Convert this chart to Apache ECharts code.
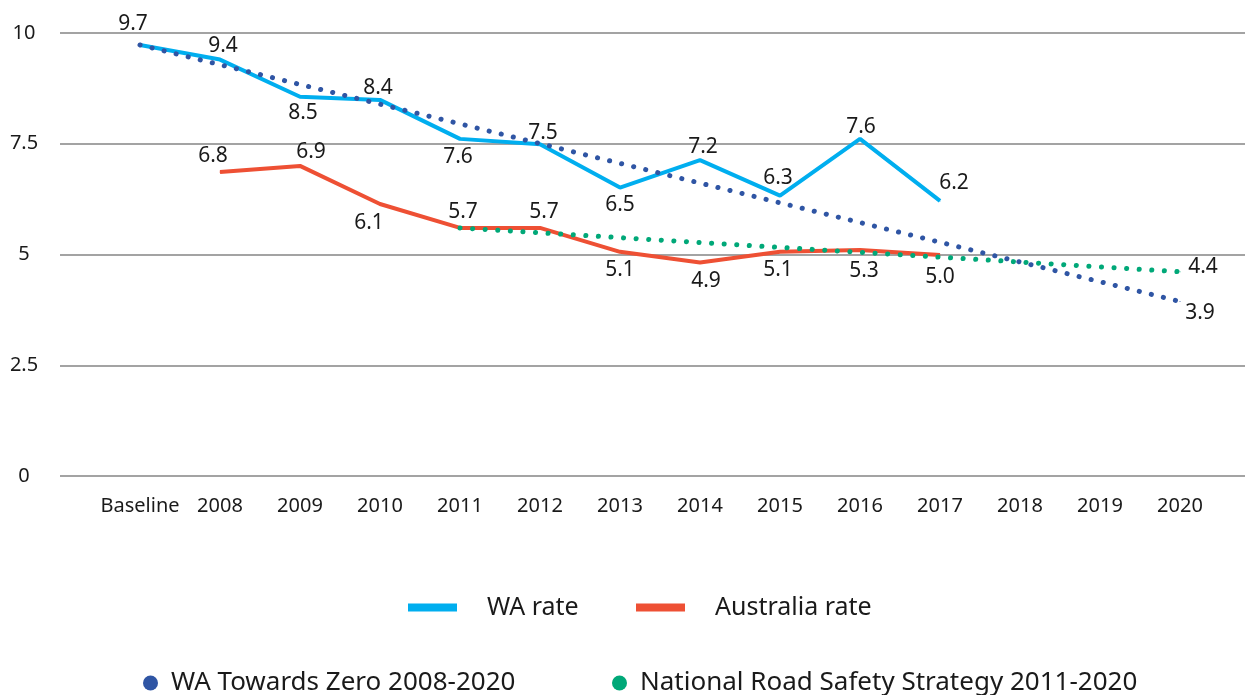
<!DOCTYPE html>
<html>
<head>
<meta charset="utf-8">
<script src="https://cdn.jsdelivr.net/npm/echarts@6/dist/echarts.min.js"></script>
<style>
  html, body { margin: 0; padding: 0; background: #fff; }
  #chart { width: 1245px; height: 695px; }
</style>
</head>
<body>
<div id="chart"></div>
<script>
// categories and values
const categories = ['Baseline', '2008', '2009', '2010', '2011', '2012', '2013', '2014', '2015', '2016', '2017', '2018', '2019', '2020']
const waRate = [9.73, 9.4, 8.56, 8.49, 7.61, 7.49, 6.51, 7.13, 6.33, 7.61, 6.21, null, null, null]
const waRateLabels = ['9.7', '9.4', '8.5', '8.4', '7.6', '7.5', '6.5', '7.2', '6.3', '7.6', '6.2', '', '', '']
const ausRate = [null, 6.86, 7.0, 6.14, 5.6, 5.6, 5.06, 4.82, 5.06, 5.1, 4.99, null, null, null]
const ausRateLabels = ['', '6.8', '6.9', '6.1', '5.7', '5.7', '5.1', '4.9', '5.1', '5.3', '5.0', '', '', '']
const waTarget = [9.73, null, null, null, null, null, null, null, null, null, null, null, null, 3.94]
const waTargetLabels = ['', '', '', '', '', '', '', '', '', '', '', '', '', '3.9']
const nrssTarget = [null, null, null, null, 5.6, null, null, null, null, null, null, null, null, 4.61]
const nrssTargetLabels = ['', '', '', '', '', '', '', '', '', '', '', '', '', '4.4']

// label offsets from each point (px)
const waOffsets = [[-7, -21], [3, -14], [3, 16], [-2, -12], [-2, 18], [3, -11], [0, 17], [3, -13], [-2, -18], [1, -12], [14, -18]]
const ausOffsets = [null, [-7, -16], [11, -14], [-11, 19], [3, -16], [4, -16], [0, 18], [6, 19], [-2, 18], [4, 21], [0, 22]]
const waTargetOffsets = { 13: [20, 12] }
const nrssOffsets = { 13: [23, -5] }

const colors = {
  wa: '#00AEEF',
  aus: '#EE5034',
  waTarget: '#2F55A4',
  nrss: '#00A878',
}
const textColor = '#1a1a1a'
const font = 'Noto Sans'

const buildData = (values, labels, offsets) =>
  values.map((v, i) => {
    if (v === null) return null
    const text = labels[i]
    const off = (offsets && offsets[i]) || [0, 0]
    return {
      value: v,
      label: {
        show: text !== '',
        formatter: () => text,
        position: 'inside',
        offset: off,
      },
    }
  })

const myChart = echarts.init(document.getElementById('chart'))

const labelStyle = {
  color: textColor,
  fontFamily: font,
  fontSize: 21,
}

// one legend per item so each sits where the original puts it
const makeLegend = (name, left, top, isLine) => ({
  data: [name],
  left: left,
  top: top,
  padding: 0,
  selectedMode: false,
  icon: isLine ? 'rect' : 'circle',
  itemWidth: isLine ? 49 : 15,
  itemHeight: isLine ? 8 : 15,
  itemStyle: { borderWidth: 0 },
  textStyle: {
    color: textColor,
    fontFamily: font,
    fontSize: isLine ? 25 : 26,
    padding: [0, 0, 0, isLine ? 25 : 8],
  },
})

const option = {
  animation: false,
  grid: [
    { left: 60, right: 0, top: 33, bottom: 219 },
    { left: 100, right: 25, top: 33, bottom: 219 },
  ],
  xAxis: [
    { gridIndex: 0, type: 'value', show: false },
    {
      gridIndex: 1,
      type: 'category',
      data: categories,
      axisLine: { show: false },
      axisTick: { show: false },
      axisLabel: { color: textColor, fontFamily: font, fontSize: 20, margin: 20, interval: 0 },
    },
  ],
  yAxis: [
    {
      gridIndex: 0,
      type: 'value',
      min: 0,
      max: 10,
      interval: 2.5,
      axisLine: { show: false },
      axisTick: { show: false },
      axisLabel: { color: textColor, fontFamily: font, fontSize: 20, margin: 36, align: 'center' },
      splitLine: { lineStyle: { color: '#a3a3a3', width: 2 } },
    },
    { gridIndex: 1, type: 'value', min: 0, max: 10, show: false },
  ],
  legend: [
    makeLegend('WA rate', 408, 595, true),
    makeLegend('Australia rate', 636, 595, true),
    makeLegend('WA Towards Zero 2008-2020', 143, 670, false),
    makeLegend('National Road Safety Strategy 2011-2020', 612, 670, false),
  ],
  series: [
    {
      name: 'WA rate',
      type: 'line',
      xAxisIndex: 1,
      yAxisIndex: 1,
      data: buildData(waRate, waRateLabels, waOffsets),
      symbol: 'circle',
      symbolSize: 1,
      lineStyle: { color: colors.wa, width: 4 },
      itemStyle: { color: colors.wa },
      label: labelStyle,
      z: 2,
    },
    {
      name: 'Australia rate',
      type: 'line',
      xAxisIndex: 1,
      yAxisIndex: 1,
      data: buildData(ausRate, ausRateLabels, ausOffsets),
      symbol: 'circle',
      symbolSize: 1,
      lineStyle: { color: colors.aus, width: 4 },
      itemStyle: { color: colors.aus },
      label: labelStyle,
      z: 2,
    },
    {
      name: 'WA Towards Zero 2008-2020',
      type: 'line',
      xAxisIndex: 1,
      yAxisIndex: 1,
      connectNulls: true,
      data: buildData(waTarget, waTargetLabels, waTargetOffsets),
      symbol: 'circle',
      symbolSize: 1,
      lineStyle: { color: colors.waTarget, width: 5, type: [0.1, 12.3], cap: 'round' },
      itemStyle: { color: colors.waTarget },
      label: labelStyle,
      z: 3,
    },
    {
      name: 'National Road Safety Strategy 2011-2020',
      type: 'line',
      xAxisIndex: 1,
      yAxisIndex: 1,
      connectNulls: true,
      data: buildData(nrssTarget, nrssTargetLabels, nrssOffsets),
      symbol: 'circle',
      symbolSize: 1,
      lineStyle: { color: colors.nrss, width: 5, type: [0.1, 12.5], cap: 'round' },
      itemStyle: { color: colors.nrss },
      label: labelStyle,
      z: 3,
    },
  ],
}

myChart.setOption(option)
</script>
</body>
</html>
